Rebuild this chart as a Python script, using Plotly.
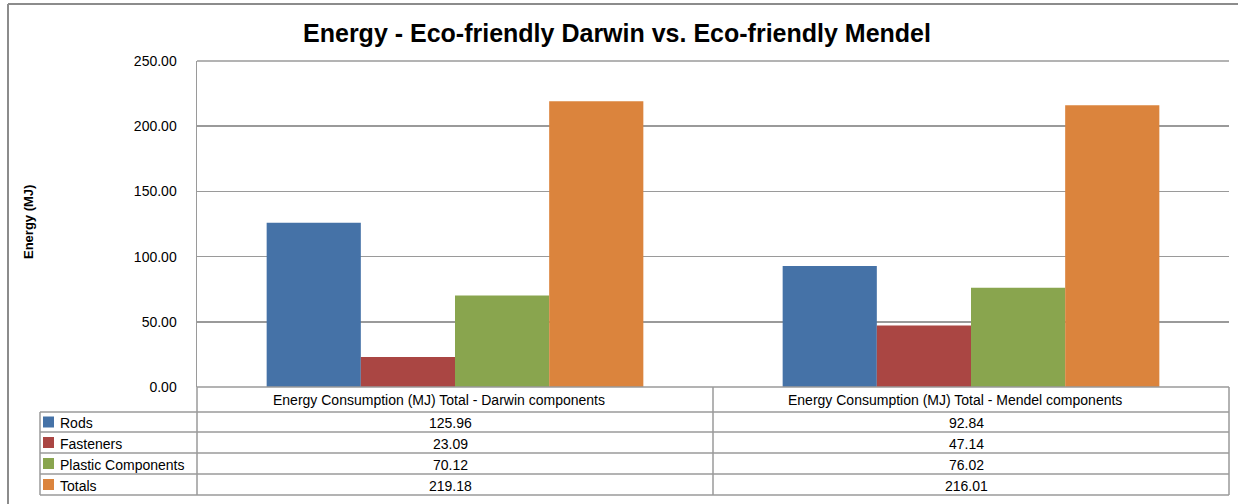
import plotly.graph_objects as go

categories = ["Energy Consumption (MJ) Total - Darwin components",
              "Energy Consumption (MJ) Total - Mendel components"]
series_names = ["Rods", "Fasteners", "Plastic Components", "Totals"]
rods = [125.96, 92.84]
fasteners = [23.09, 47.14]
plastic = [70.12, 76.02]
totals = [219.18, 216.01]
series_values = [rods, fasteners, plastic, totals]
colors = ["#4572A7", "#AA4643", "#89A54E", "#DB843D"]
y_ticks = [0, 50, 100, 150, 200, 250]

FONT = "Liberation Sans, Arial, Helvetica, sans-serif"
W, H = 1238, 504
PL, PR, PT, PB = 197, 1229, 61, 387
GRID = "#9a9a9a"
TS = 14


def px(x):
    return (x - PL) / (PR - PL)


def py(y):
    return (PB - y) / (PB - PT)


fig = go.Figure()
for name, vals, col in zip(series_names, series_values, colors):
    fig.add_trace(go.Bar(x=categories, y=vals, name=name, marker=dict(color=col, line=dict(width=0)),
                         showlegend=False, hoverinfo="skip"))

shapes = []
annotations = []

# outer chart border
shapes.append(dict(type="line", xref="paper", yref="paper", x0=px(8), x1=px(1240), y0=py(4), y1=py(4),
                   line=dict(color="#8c8c8c", width=2)))
shapes.append(dict(type="line", xref="paper", yref="paper", x0=px(8), x1=px(8), y0=py(4), y1=py(506),
                   line=dict(color="#8c8c8c", width=2)))

# top gridline of plot area
shapes.append(dict(type="line", xref="paper", yref="paper", x0=px(PL), x1=px(PR), y0=1, y1=1,
                   line=dict(color=GRID, width=1.5)))

# data table
rows = [387, 412, 432, 453, 474, 495]
tl = 40
cols_x = [PL, 713, PR]
shapes.append(dict(type="line", xref="paper", yref="paper", x0=px(PL), x1=px(PR), y0=py(387), y1=py(387),
                   line=dict(color=GRID, width=1.5)))
for r in rows[1:]:
    shapes.append(dict(type="line", xref="paper", yref="paper", x0=px(tl), x1=px(PR), y0=py(r), y1=py(r),
                       line=dict(color=GRID, width=1.5)))
for cx in cols_x:
    shapes.append(dict(type="line", xref="paper", yref="paper", x0=px(cx), x1=px(cx), y0=py(387), y1=py(495),
                       line=dict(color=GRID, width=1.5)))
shapes.append(dict(type="line", xref="paper", yref="paper", x0=px(tl), x1=px(tl), y0=py(412), y1=py(495),
                   line=dict(color=GRID, width=1.5)))

# header text
for c in categories:
    annotations.append(dict(x=c, xref="x", y=py(400), yref="paper", text=c, showarrow=False, xshift=-16,
                            font=dict(family=FONT, size=TS, color="#000"), xanchor="center", yanchor="middle"))

# rows
for i, (name, vals, col) in enumerate(zip(series_names, series_values, colors)):
    top, bot = rows[i + 1], rows[i + 2]
    mid = (top + bot) / 2
    shapes.append(dict(type="rect", xref="paper", yref="paper", x0=px(43), x1=px(54), y0=py(mid - 5.5),
                       y1=py(mid + 5.5), fillcolor=col, line=dict(width=0)))
    annotations.append(dict(x=px(58), xref="paper", y=py(mid + 1), yref="paper", text=name, showarrow=False,
                            font=dict(family=FONT, size=TS, color="#000"), xanchor="left", yanchor="middle"))
    for c, v in zip(categories, vals):
        annotations.append(dict(x=c, xref="x", y=py(mid + 1), yref="paper", text=f"{v:.2f}", showarrow=False,
                                xshift=-5, font=dict(family=FONT, size=TS, color="#000"), xanchor="center",
                                yanchor="middle"))

# y axis title
annotations.append(dict(x=px(28), xref="paper", y=py(222), yref="paper", text="<b>Energy (MJ)</b>",
                        showarrow=False, textangle=-90, font=dict(family=FONT, size=13, color="#000"),
                        xanchor="center", yanchor="middle"))

fig.update_layout(
    width=W, height=H,
    margin=dict(l=PL, r=W - PR, t=PT, b=H - PB, pad=0),
    paper_bgcolor="white", plot_bgcolor="white",
    title=dict(text="<b>Energy - Eco-friendly Darwin vs. Eco-friendly Mendel</b>", x=617 / W, xanchor="center",
               y=1 - 33 / H, yanchor="middle", font=dict(family=FONT, size=25, color="#000")),
    barmode="group", bargap=0.27, bargroupgap=0,
    xaxis=dict(showticklabels=False, showgrid=False, showline=False, zeroline=False, fixedrange=True),
    yaxis=dict(range=[0, 250], tickvals=y_ticks, tickformat=".2f", showgrid=True, gridcolor=GRID, gridwidth=1.5,
               showline=True, linecolor=GRID, linewidth=1.5, zeroline=False, ticks="", fixedrange=True,
               ticklabelstandoff=16, tickfont=dict(family=FONT, size=14, color="#000")),
    shapes=shapes, annotations=annotations, showlegend=False,
    font=dict(family=FONT),
)

fig.write_html("out.html", config={"displayModeBar": False, "staticPlot": True},
               post_script="document.body.style.margin='0';document.body.style.overflow='hidden';")
